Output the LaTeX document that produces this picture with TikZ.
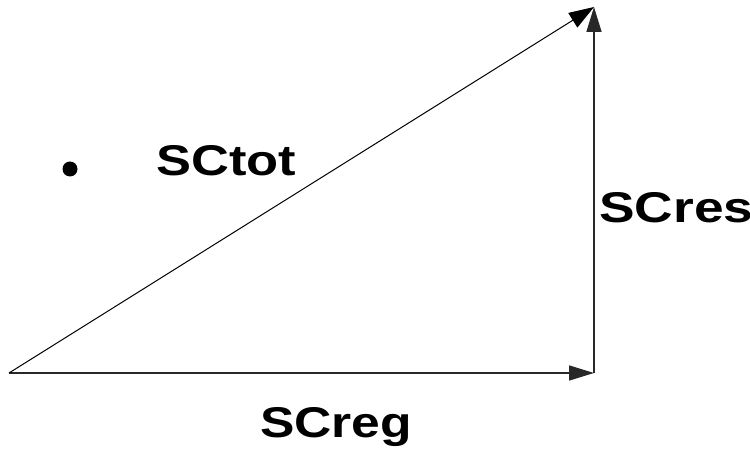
\documentclass[tikz,border=0pt]{standalone}
\usepackage{fontspec}
\setmainfont{Liberation Sans}
\usepackage{xcolor}
\definecolor{vecInk}{RGB}{0,0,0}
\definecolor{sideInk}{RGB}{40,40,40}
\usetikzlibrary{arrows.meta,positioning}

\tikzset{
  sqlabel/.style={inner sep=0pt, anchor=base west, text=vecInk,
    font=\fontsize{43}{50}\selectfont\bfseries},
  sidevec/.style={sideInk, line width=1.6pt, -{Triangle[length=25pt,width=15pt]}},
  totvec/.style={vecInk, line width=1pt, -{Triangle[length=25pt,width=17pt]}}
}

\begin{document}
\begin{tikzpicture}[x=1pt,y=-1pt]
  \useasboundingbox (0,0) rectangle (750,457);
  % the three corners of the triangle
  \coordinate (origin) at (9,373);
  \coordinate (corner) at (594,373);
  \coordinate (apex) at (594,7);
  \draw[sidevec] (origin) -- (corner);
  \draw[sidevec] (corner) -- (apex);
  \draw[totvec] (origin) -- (apex);
  \fill[vecInk] (70,169) circle (7.5pt);
  \node[sqlabel] (tot) at (156,176) {\scalebox{1.22}[1]{SCtot}};
  \node[sqlabel] (res) at (599,223) {\scalebox{1.24}[1]{SCres}};
  \node[sqlabel] (reg) at (260,437) {\scalebox{1.2}[1]{SCreg}};
\end{tikzpicture}
\end{document}
